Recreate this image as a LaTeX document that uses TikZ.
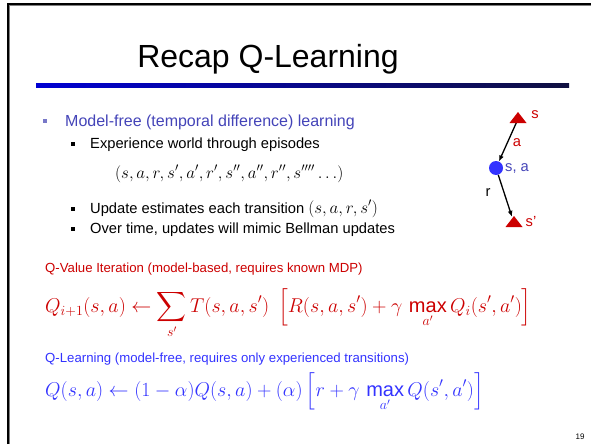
\RequirePackage{fix-cm}
\documentclass[tikz,border=0pt]{standalone}
\usepackage{amsmath}
\usepackage[no-math]{fontspec}
\setmainfont{Liberation Sans}
\usetikzlibrary{arrows.meta}
\definecolor{slidered}{RGB}{204,0,0}
\definecolor{bulletblue}{RGB}{68,68,184}
\definecolor{bulletsq}{RGB}{120,120,200}
\definecolor{qblue}{RGB}{51,51,255}
\definecolor{barblue}{RGB}{0,0,210}
\definecolor{barnavy}{RGB}{16,16,64}
\newcommand{\qmax}{\mathop{\text{max}}\limits}
\newcommand{\lvlone}{\fontsize{16}{19}\selectfont}
\newcommand{\lvltwo}{\fontsize{14.7}{17}\selectfont}
\newcommand{\inmath}[1]{{\fontsize{17}{20}\selectfont$#1$}}
\tikzset{
  txt/.style={anchor=base west,inner sep=0pt},
  bulletone/.style={fill=bulletsq,inner sep=0pt,minimum size=4.5pt},
  bullettwo/.style={fill=black,inner sep=0pt,minimum size=4pt},
  qstate/.style={circle,fill=qblue,inner sep=0pt,minimum size=14pt},
  transarrow/.style={line width=1.3pt,-{Latex[length=6pt,width=5pt]}},
  statetri/.pic={\fill[slidered] (0,-7) -- (8.5,4) -- (-8.5,4) -- cycle;}
}
\begin{document}
\begin{tikzpicture}[x=1pt,y=-1pt]
\useasboundingbox (0,0) rectangle (591,444);
% frame and title bar
\draw[line width=1pt,gray] (9.8,444) -- (9.8,5.8) -- (591,5.8);
\draw[line width=2.2pt,black] (8,444) -- (8,4) -- (591,4);
\shade[left color=barblue,right color=barnavy] (36,83) rectangle (569,87);
\node[anchor=base,inner sep=0pt] (title) at (268,67) {\fontsize{32}{38}\selectfont Recap Q-Learning};

% bullets
\node[bulletone] (b1) at (45,121) {};
\node[txt,text=bulletblue] (l1) at (65,126) {\lvlone Model-free (temporal difference) learning};
\node[bullettwo] (b2) at (73,143.5) {};
\node[txt] (l2) at (90,148) {\lvltwo Experience world through episodes};
\node[txt] (tuple) at (115,178) {\inmath{(s,a,r,s',a',r',s'',a'',r'',s''''\ldots)}};
\node[bullettwo] (b3) at (73,208.5) {};
\node[txt] (l3) at (90,213) {\lvltwo Update estimates each transition \inmath{(s,a,r,s')}};
\node[bullettwo] (b4) at (73,228.5) {};
\node[txt] (l4) at (90,233) {\lvltwo Over time, updates will mimic Bellman updates};

% q-state diagram
\coordinate (stop) at (518,119);
\node[qstate] (sa) at (496,168) {};
\coordinate (sbot) at (514,223);
\draw[transarrow] (stop) -- (sa);
\draw[transarrow,shorten >=6.5pt] (sa) -- (sbot);
\pic at (stop) {statetri};
\pic at (sbot) {statetri};
\node[text=slidered] (slbl) at (535,115) {\lvltwo s};
\node[text=slidered] (albl) at (517,143) {\lvltwo a};
\node[text=bulletblue,anchor=west,inner sep=0pt] (salbl) at (505,168) {\lvltwo s, a};
\node (rlbl) at (488,193) {\lvltwo r};
\node[text=slidered] (snlbl) at (531,222) {\lvltwo s'};

% update rules
\node[txt,text=slidered] (vihead) at (45,272) {\fontsize{13.2}{16}\selectfont Q-Value Iteration (model-based, requires known MDP)};
\node[txt,text=slidered] (vieq) at (45,312) {\fontsize{20}{24}\selectfont $\displaystyle Q_{i+1}(s,a) \leftarrow \sum_{s'} T(s,a,s')\;\left[R(s,a,s') + \gamma\,\qmax_{a'} Q_i(s',a')\right]$};
\node[txt,text=qblue] (qlhead) at (45,362) {\fontsize{13.2}{16}\selectfont Q-Learning (model-free, requires only experienced transitions)};
\node[txt,text=qblue] (qleq) at (45,396) {\fontsize{20}{24}\selectfont $\displaystyle Q(s,a) \leftarrow (1-\alpha)Q(s,a) + (\alpha)\left[r + \gamma\,\qmax_{a'} Q(s',a')\right]$};

\node (pnum) at (580,437) {\fontsize{8}{9}\selectfont 19};
\end{tikzpicture}
\end{document}
